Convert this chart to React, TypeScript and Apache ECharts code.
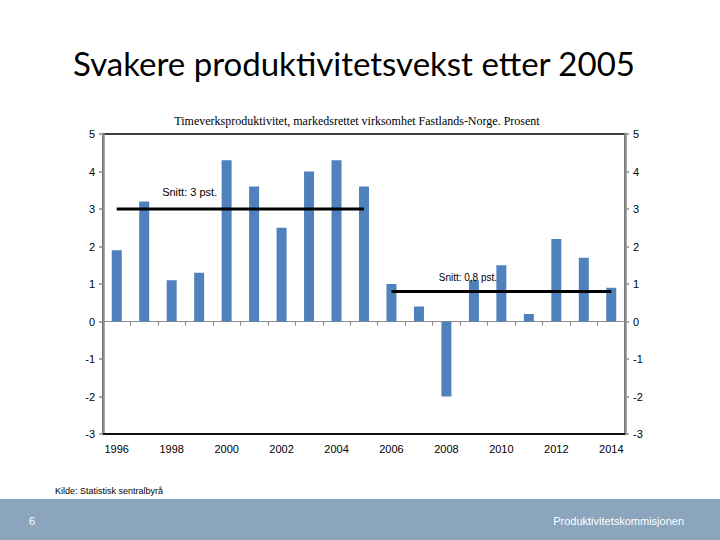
import React, { useEffect, useRef } from "react";
import * as echarts from "echarts";

const years = ["1996","1997","1998","1999","2000","2001","2002","2003","2004","2005","2006","2007","2008","2009","2010","2011","2012","2013","2014"];
const growth = [1.9, 3.2, 1.1, 1.3, 4.3, 3.6, 2.5, 4.0, 4.3, 3.6, 1.0, 0.4, -2.0, 1.1, 1.5, 0.2, 2.2, 1.7, 0.9];
const avgBefore = [3, 3, 3, 3, 3, 3, 3, 3, 3, 3, "-", "-", "-", "-", "-", "-", "-", "-", "-"];
const avgAfter = ["-", "-", "-", "-", "-", "-", "-", "-", "-", "-", 0.8, 0.8, 0.8, 0.8, 0.8, 0.8, 0.8, 0.8, 0.8];
const yTicks = { min: -3, max: 5, interval: 1 };

const title = "Svakere produktivitetsvekst etter 2005";
const subtitle = "Timeverksproduktivitet, markedsrettet virksomhet Fastlands-Norge. Prosent";
const source = "Kilde: Statistisk sentralbyrå";

export default function App() {
  const ref = useRef<HTMLDivElement>(null);
  useEffect(() => {
    const chart = echarts.init(ref.current!, null, { renderer: "svg" });
    const yAxisBase = {
      type: "value",
      min: yTicks.min,
      max: yTicks.max,
      interval: yTicks.interval,
      splitLine: { show: false },
      axisLine: { show: true, lineStyle: { color: "#8c8c8c", width: 2.5 } },
      axisTick: { show: true, length: 4, lineStyle: { color: "#8c8c8c", width: 1.5 } },
      axisLabel: { color: "#000", fontSize: 11, fontFamily: "Liberation Sans", margin: 8 },
    };
    chart.setOption({
      animation: false,
      backgroundColor: "#fff",
      title: [
        {
          text: title,
          left: 349,
          top: 41,
          textAlign: "center",
          textStyle: { fontFamily: "Lato", fontSize: 33, fontWeight: "normal", color: "#000" },
        },
        {
          text: subtitle,
          left: 352,
          top: 110,
          textAlign: "center",
          textStyle: { fontFamily: "Liberation Serif", fontSize: 12, fontWeight: "normal", color: "#000" },
        },
      ],
      grid: { left: 103, right: 95, top: 134, bottom: 106, show: true, borderColor: "#000", borderWidth: 1.5 },
      xAxis: [
        {
          type: "category",
          data: years,
          axisLine: { onZero: true, lineStyle: { color: "#8c8c8c", width: 1.2 } },
          axisTick: { show: true, interval: 0, length: 4, lineStyle: { color: "#8c8c8c", width: 1.2 } },
          axisLabel: { show: false },
        },
        {
          type: "category",
          data: years,
          position: "bottom",
          axisLine: { onZero: false, lineStyle: { color: "#000", width: 1.5 } },
          axisTick: { show: false },
          axisLabel: { interval: 1, color: "#000", fontSize: 11, fontFamily: "Liberation Sans", margin: 9 },
        },
      ],
      yAxis: [
        { ...yAxisBase, position: "left" },
        { ...yAxisBase, position: "right" },
      ],
      series: [
        {
          type: "bar",
          data: growth,
          barWidth: 10,
          itemStyle: { color: "#4f81bd" },
        },
        {
          type: "line",
          data: avgBefore,
          symbol: "none",
          lineStyle: { color: "#000", width: 3 },
          z: 5,
          markPoint: {
            symbol: "rect",
            symbolSize: 1,
            itemStyle: { color: "transparent" },
            label: {
              show: true,
              formatter: "Snitt: 3 pst.",
              color: "#000",
              fontSize: 11,
              fontFamily: "Liberation Sans",
              offset: [18, 0],
            },
            data: [{ coord: ["1998", 3.45] }],
          },
        },
        {
          type: "line",
          data: avgAfter,
          symbol: "none",
          lineStyle: { color: "#000", width: 3 },
          z: 5,
          markPoint: {
            symbol: "rect",
            symbolSize: 1,
            itemStyle: { color: "transparent" },
            label: {
              show: true,
              formatter: "Snitt: 0,8 pst.",
              color: "#000",
              fontSize: 10,
              fontFamily: "Liberation Sans",
              offset: [-6, 0],
            },
            data: [{ coord: ["2009", 1.18] }],
          },
        },
      ],
      graphic: [
        {
          type: "text",
          left: 55,
          top: 486,
          style: { text: source, fontSize: 9, fontFamily: "Liberation Sans", fill: "#000" },
        },
        {
          type: "rect",
          left: 0,
          top: 499,
          shape: { width: 720, height: 41 },
          style: { fill: "#8ba5bd" },
        },
        {
          type: "text",
          left: 29,
          top: 515,
          style: { text: "6", fontSize: 11, fontFamily: "Liberation Sans", fill: "#fff" },
        },
        {
          type: "text",
          right: 36,
          top: 515,
          style: { text: "Produktivitetskommisjonen", fontSize: 11, fontFamily: "Liberation Sans", fill: "#fff" },
        },
      ],
    });
    return () => chart.dispose();
  }, []);
  return <div ref={ref} style={{ position: "fixed", left: 0, top: 0, width: 720, height: 540 }} />;
}
